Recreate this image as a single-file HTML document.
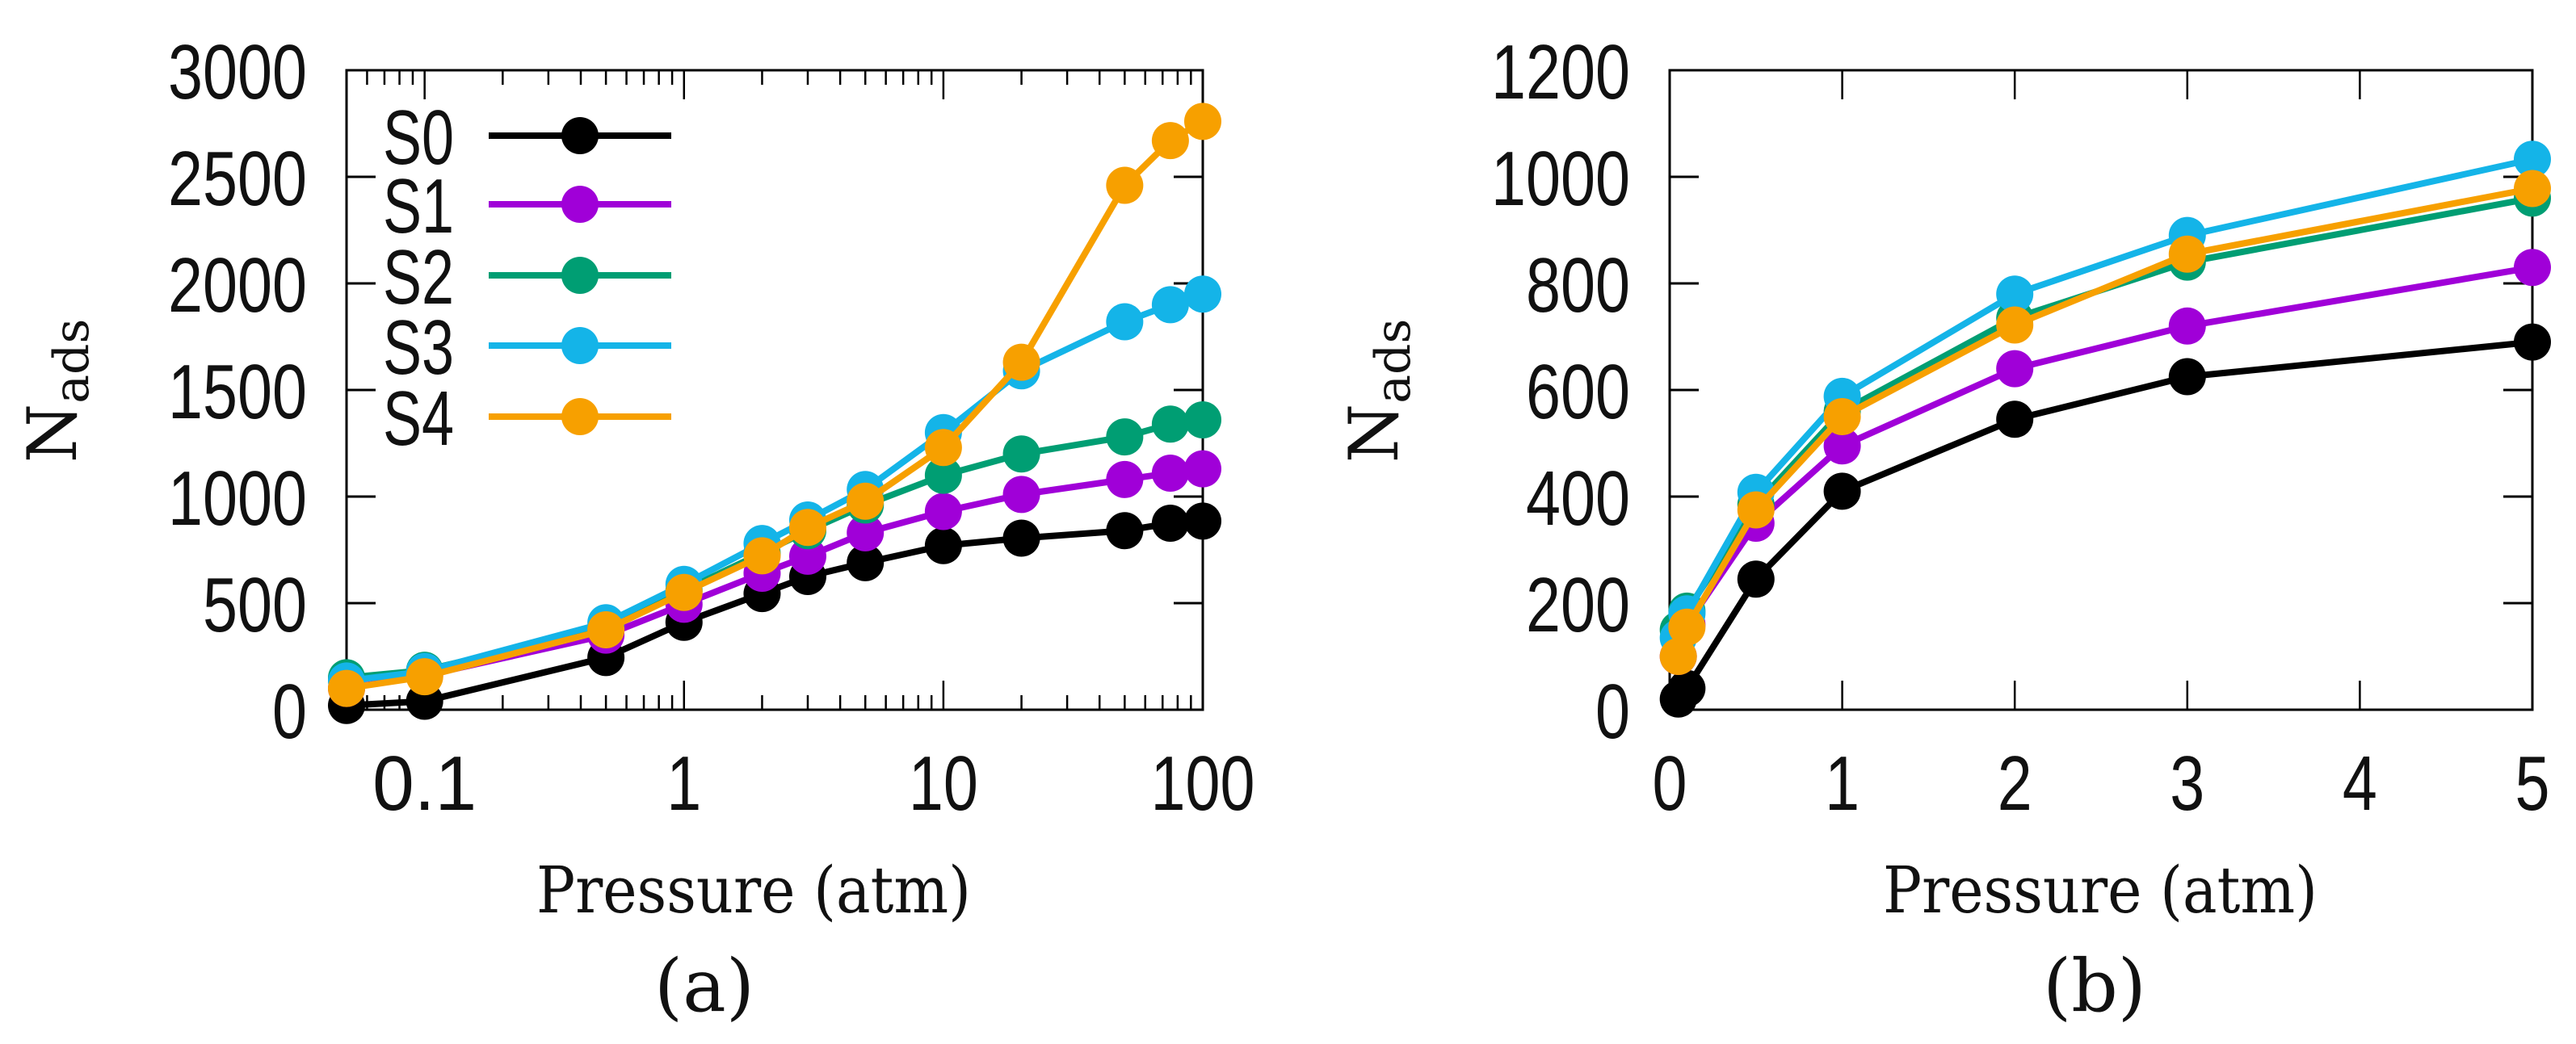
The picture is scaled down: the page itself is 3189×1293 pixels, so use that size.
<!DOCTYPE html>
<html><head><meta charset="utf-8">
<style>
html,body{margin:0;padding:0;background:#fff;}
svg{display:block;}
text{font-family:"Liberation Sans",sans-serif;fill:#111;}
.serif{font-family:"DejaVu Serif","Liberation Serif",serif;}
</style></head>
<body>
<svg id="fig" width="3189" height="1293" viewBox="0 0 3189 1293" xmlns="http://www.w3.org/2000/svg">
<g id="chartA"></g>
<g id="chartB"></g>
</svg>
<script>
const pressures = [0.05, 0.1, 0.5, 1, 2, 3, 5, 10, 20, 50, 75, 100];
const seriesNames = ["S0", "S1", "S2", "S3", "S4"];
const s0 = [20, 40, 245, 410, 545, 625, 690, 770, 805, 840, 875, 885];
const s1 = [100, 160, 350, 495, 640, 720, 830, 930, 1010, 1080, 1110, 1130];
const s2 = [150, 185, 385, 560, 735, 840, 960, 1100, 1200, 1280, 1340, 1360];
const s3 = [135, 180, 408, 588, 780, 890, 1033, 1300, 1590, 1820, 1900, 1950];
const s4 = [100, 155, 375, 550, 722, 855, 978, 1230, 1630, 2460, 2670, 2760];
const yTicksA = [0, 500, 1000, 1500, 2000, 2500, 3000];
const xTicksA = [0.1, 1, 10, 100];
const xTickLabelsA = ["0.1", "1", "10", "100"];
const yTicksB = [0, 200, 400, 600, 800, 1000, 1200];
const xTicksB = [0, 1, 2, 3, 4, 5];
const bMaxPressure = 5;

const colors = ["#000000", "#a000d8", "#009e73", "#14b4e8", "#f7a000"];
const allSeries = [s0, s1, s2, s3, s4];
const NS = "http://www.w3.org/2000/svg";
function mk(parent, tag, attrs) {
  const e = document.createElementNS(NS, tag);
  for (const k in attrs) e.setAttribute(k, attrs[k]);
  parent.appendChild(e);
  return e;
}
const yTop = 87, yBot = 879;
const MR = 23, LW = 8, TFS = 96;

function drawChart(g, opt) {
  const {L, R, yMax, xs, ys, logX} = opt;
  const ymap = v => yBot - v / yMax * (yBot - yTop);
  const xmap = logX
    ? v => L + (Math.log10(v) - Math.log10(0.05)) / (Math.log10(100) - Math.log10(0.05)) * (R - L)
    : v => L + v / 5 * (R - L);
  const fr = mk(g, "rect", {x: L, y: yTop, width: R - L, height: yBot - yTop, fill: "none", stroke: "#000", "stroke-width": 3});
  
  
  ys.forEach(v => {
    const y = ymap(v);
    const t1 = mk(g, "line", {x1: L, x2: L + 36, y1: y, y2: y, stroke: "#000", "stroke-width": 3});
    
    
    const t2 = mk(g, "line", {x1: R, x2: R - 36, y1: y, y2: y, stroke: "#000", "stroke-width": 3});
    
    
    const s = String(v);
    const tx = mk(g, "text", {x: opt.yLabelX, y: y + 35, "text-anchor": "end", "font-size": TFS, textLength: s.length * 43, lengthAdjust: "spacingAndGlyphs"});
    tx.textContent = s;
    
    
  });
  if (logX) {
    for (let d = -2; d <= 1; d++) {
      for (let m = 1; m <= 9; m++) {
        const v = m * Math.pow(10, d);
        if (v < 0.05 - 1e-9 || v > 100 + 1e-9) continue;
        const x = xmap(v);
        const len = m === 1 ? 36 : 18;
        const a = mk(g, "line", {x1: x, x2: x, y1: yBot, y2: yBot - len, stroke: "#000", "stroke-width": 2.5});
        
        
        const b = mk(g, "line", {x1: x, x2: x, y1: yTop, y2: yTop + len, stroke: "#000", "stroke-width": 2.5});
        
        
      }
    }
    xs.forEach((v, i) => {
      const s = xTickLabelsA[i];
      const tx = mk(g, "text", {x: xmap(v), y: 1003, "text-anchor": "middle", "font-size": TFS, textLength: s.length * 43, lengthAdjust: "spacingAndGlyphs"});
      tx.textContent = s;
      
      
    });
  } else {
    xs.forEach(v => {
      const x = xmap(v);
      if (v > 0 && v < 5) {
        const a = mk(g, "line", {x1: x, x2: x, y1: yBot, y2: yBot - 36, stroke: "#000", "stroke-width": 2.5});
        
        
        const b = mk(g, "line", {x1: x, x2: x, y1: yTop, y2: yTop + 36, stroke: "#000", "stroke-width": 2.5});
        
        
      }
      const tx = mk(g, "text", {x: x, y: 1003, "text-anchor": "middle", "font-size": TFS, textLength: 43, lengthAdjust: "spacingAndGlyphs"});
      tx.textContent = String(v);
      
      
    });
  }
  allSeries.forEach((ser, si) => {
    const sg = mk(g, "g", {});
    
    
    const pts = [];
    ser.forEach((v, i) => {
      if (!logX && pressures[i] > bMaxPressure) return;
      pts.push([xmap(pressures[i]), ymap(v)]);
    });
    const pl = mk(sg, "polyline", {points: pts.map(p => p.join(",")).join(" "), fill: "none", stroke: colors[si], "stroke-width": LW, "stroke-linejoin": "round"});
    
    
    pts.forEach(p => {
      const c = mk(sg, "circle", {cx: p[0], cy: p[1], r: MR, fill: colors[si]});
      
      
    });
  });
  const yt = mk(g, "text", {class: "serif", x: 0, y: 0, "font-size": 84, "text-anchor": "middle", transform: `translate(${opt.yTitleX},484) rotate(-90)`});
  
  
  yt.textContent = "N";
  const sub = mk(yt, "tspan", {"font-size": 60, dy: 15});
  sub.textContent = "ads";
  
  
  const xt = mk(g, "text", {class: "serif", x: opt.xTitleX, y: 1130, "font-size": 80, "text-anchor": "middle", textLength: 538, lengthAdjust: "spacingAndGlyphs"});
  xt.textContent = "Pressure (atm)";
  
  
  const pn = mk(g, "text", {class: "serif", x: opt.panelX, y: 1252, "font-size": 90, "text-anchor": "middle"});
  pn.textContent = opt.panel;
  
  
}

const gA = document.getElementById("chartA");
drawChart(gA, {L: 429, R: 1489, yMax: 3000, xs: xTicksA, ys: yTicksA, logX: true, yLabelX: 380, yTitleX: 94, xTitleX: 933, panelX: 872, panel: "(a)"});
const gB = document.getElementById("chartB");
drawChart(gB, {L: 2067, R: 3135, yMax: 1200, xs: xTicksB, ys: yTicksB, logX: false, yLabelX: 2018, yTitleX: 1730, xTitleX: 2600, panelX: 2593, panel: "(b)"});

const lg = mk(gA, "g", {});


const legendY = [168, 253, 341, 428, 516];
seriesNames.forEach((n, i) => {
  const e = mk(lg, "g", {});
  
  
  const t = mk(e, "text", {x: 474, y: legendY[i] + 35, "font-size": TFS, textLength: 88, lengthAdjust: "spacingAndGlyphs"});
  t.textContent = n;
  
  
  const l = mk(e, "line", {x1: 605, x2: 831, y1: legendY[i], y2: legendY[i], stroke: colors[i], "stroke-width": LW});
  
  
  const c = mk(e, "circle", {cx: 718, cy: legendY[i], r: MR, fill: colors[i]});
  
  
});
</script>
</body></html>
